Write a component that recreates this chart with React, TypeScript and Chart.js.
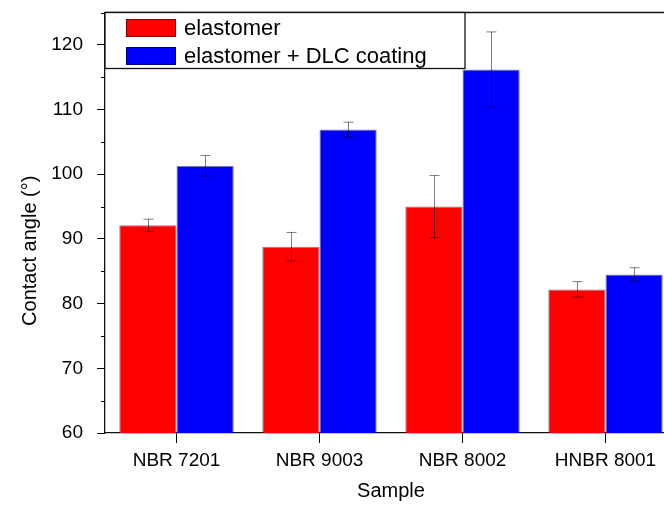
import React, { useEffect, useRef } from "react";
import { Chart, registerables } from "chart.js";

Chart.register(...registerables);

const categories = ["NBR 7201", "NBR 9003", "NBR 8002", "HNBR 8001"];
const seriesLabels = ["elastomer", "elastomer + DLC coating"];
const elastomerValues = [92.1, 88.8, 95.0, 82.2];
const elastomerErrors = [0.95, 2.2, 4.8, 1.2];
const coatedValues = [101.3, 106.9, 116.2, 84.5];
const coatedErrors = [1.6, 1.15, 5.8, 1.05];
const seriesColors = ["#FF0000", "#0000FF"];
const yMin = 60;
const yMax = 125;
const yStep = 5;
const yLabelEvery = 10;
const xTitle = "Sample";
const yTitle = "Contact angle (°)";

const FONT = '"Liberation Sans", Arial, Helvetica, sans-serif';

const decorPlugin = {
  id: "decor",
  afterDatasetsDraw(chart: any) {
    const ctx = chart.ctx;
    const ys = chart.scales.y;
    ctx.save();
    ctx.strokeStyle = "rgba(0,0,0,0.5)";
    ctx.lineWidth = 1;
    chart.data.datasets.forEach((ds: any, di: number) => {
      const meta = chart.getDatasetMeta(di);
      meta.data.forEach((bar: any, i: number) => {
        const v = ds.data[i];
        const e = ds.errors[i];
        const yt = ys.getPixelForValue(v + e);
        const yb = ys.getPixelForValue(v - e);
        const x = Math.round(bar.x) + 0.5;
        ctx.beginPath();
        ctx.moveTo(x, yt);
        ctx.lineTo(x, yb);
        ctx.moveTo(x - 5, yt);
        ctx.lineTo(x + 5, yt);
        ctx.moveTo(x - 5, yb);
        ctx.lineTo(x + 5, yb);
        ctx.stroke();
      });
    });
    ctx.restore();
  },
  afterDraw(chart: any) {
    const ctx = chart.ctx;
    const area = chart.chartArea;
    const ys = chart.scales.y;
    ctx.save();
    // top frame line
    ctx.strokeStyle = "#111";
    ctx.lineWidth = 1.3;
    ctx.beginPath();
    ctx.moveTo(area.left, area.top);
    ctx.lineTo(chart.width, area.top);
    ctx.stroke();
    // minor ticks
    ctx.lineWidth = 1;
    ctx.strokeStyle = "#000";
    for (let v = yMin; v <= yMax; v += yStep) {
      if (v % yLabelEvery === 0) continue;
      const py = Math.round(ys.getPixelForValue(v)) + 0.5;
      ctx.beginPath();
      ctx.moveTo(area.left - 4, py);
      ctx.lineTo(area.left, py);
      ctx.stroke();
    }
    // legend box
    const lx = area.left;
    const ly = area.top;
    const lw = 360;
    const lh = 56;
    ctx.fillStyle = "#fff";
    ctx.fillRect(lx, ly, lw, lh);
    ctx.strokeStyle = "#111";
    ctx.lineWidth = 1.3;
    ctx.strokeRect(lx, ly, lw, lh);
    ctx.font = `22px ${FONT}`;
    ctx.textBaseline = "middle";
    ctx.textAlign = "left";
    chart.data.datasets.forEach((ds: any, i: number) => {
      const cy = ly + 15.5 + i * 28;
      ctx.fillStyle = ds.backgroundColor;
      ctx.fillRect(lx + 21, cy - 9, 50, 18);
      ctx.strokeStyle = "rgba(0,0,0,0.5)";
      ctx.lineWidth = 1;
      ctx.strokeRect(lx + 21.5, cy - 8.5, 49, 17);
      ctx.fillStyle = "#000";
      ctx.fillText(ds.label, lx + 79, cy + 1);
    });
    // axis titles
    ctx.fillStyle = "#000";
    ctx.font = `20px ${FONT}`;
    ctx.textAlign = "center";
    ctx.textBaseline = "middle";
    ctx.fillText(xTitle, (area.left + area.right) / 2, area.bottom + 58);
    ctx.save();
    ctx.translate(area.left - 75, (area.top + area.bottom) / 2 + 28);
    ctx.rotate(-Math.PI / 2);
    ctx.fillText(yTitle, 0, 0);
    ctx.restore();
    ctx.restore();
  },
};

export default function App() {
  const ref = useRef<HTMLCanvasElement | null>(null);
  useEffect(() => {
    if (!ref.current) return;
    const chart = new Chart(ref.current, {
      type: "bar",
      data: {
        labels: categories,
        datasets: [
          {
            label: seriesLabels[0],
            data: elastomerValues,
            errors: elastomerErrors,
            backgroundColor: seriesColors[0],
            borderColor: "rgba(0,0,0,0.5)",
            borderWidth: 1,
            barPercentage: 1.0,
            categoryPercentage: 0.8,
          } as any,
          {
            label: seriesLabels[1],
            data: coatedValues,
            errors: coatedErrors,
            backgroundColor: seriesColors[1],
            borderColor: "rgba(0,0,0,0.5)",
            borderWidth: 1,
            barPercentage: 1.0,
            categoryPercentage: 0.8,
          } as any,
        ],
      },
      options: {
        animation: false,
        responsive: false,
        devicePixelRatio: 1,
        layout: { padding: { top: 12.5, right: 13, bottom: 0, left: 0 } },
        plugins: {
          legend: { display: false },
          tooltip: { enabled: false },
        },
        scales: {
          x: {
            offset: true,
            grid: {
              display: true,
              drawOnChartArea: false,
              offset: false,
              tickLength: 10,
              color: "#000",
              tickColor: "#000",
              lineWidth: 1,
            },
            border: { display: true, color: "#111", width: 1.3 },
            ticks: {
              color: "#000",
              font: { family: FONT, size: 19 },
              padding: 6,
              maxRotation: 0,
              autoSkip: false,
            },
            afterFit: (s: any) => {
              s.height = 72;
              s.paddingLeft = 0;
              s.paddingRight = 0;
            },
          },
          y: {
            min: yMin,
            max: yMax,
            grid: {
              display: true,
              drawOnChartArea: false,
              tickLength: 8,
              tickColor: (c: any) =>
                c.tick && c.tick.value % yLabelEvery === 0 ? "#000" : "rgba(0,0,0,0)",
              lineWidth: 1,
            },
            border: { display: true, color: "#111", width: 1.3 },
            ticks: {
              stepSize: yStep,
              autoSkip: false,
              color: "#000",
              font: { family: FONT, size: 19 },
              padding: 14,
              callback: (v: any) => (Number(v) % yLabelEvery === 0 ? String(v) : ""),
            },
            afterFit: (s: any) => {
              s.width = 105;
              s.paddingTop = 0;
              s.paddingBottom = 0;
            },
          },
        },
      } as any,
      plugins: [decorPlugin],
    });
    return () => chart.destroy();
  }, []);

  return (
    <div
      style={{
        position: "fixed",
        left: 0,
        top: 0,
        width: 664,
        height: 505,
        overflow: "hidden",
        background: "#fff",
      }}
    >
      <canvas ref={ref} width={690} height={505} style={{ display: "block" }} />
    </div>
  );
}
